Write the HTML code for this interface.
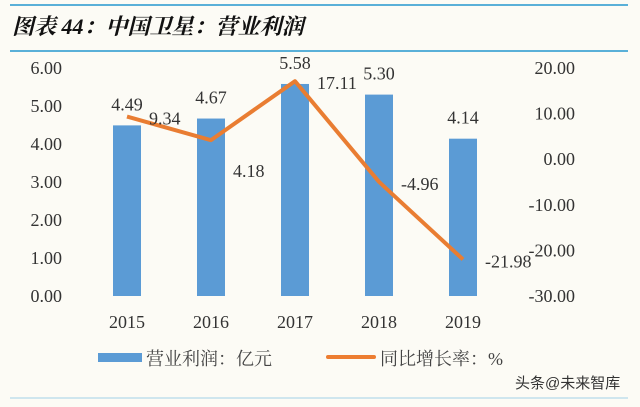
<!DOCTYPE html>
<html><head><meta charset="utf-8"><style>
html,body{margin:0;padding:0;background:#fcfbf5;}
body{width:640px;height:402px;overflow:hidden;position:relative;font-family:"Liberation Serif","Noto Serif CJK SC",serif;}
</style></head><body>
<svg width="640" height="402" id="chart">
<line x1="10" y1="5" x2="628" y2="5" stroke="#5ab0d8" stroke-width="2"/>
<line x1="10" y1="51" x2="628" y2="51" stroke="#5ab0d8" stroke-width="2"/>
<text x="12" y="34" font-size="22" font-style="italic" font-weight="bold" font-family="'Liberation Serif','Noto Serif CJK SC',serif" fill="#111">图表 44：中国卫星：营业利润</text>
<line x1="10" y1="398" x2="628" y2="398" stroke="#cfe6ee" stroke-width="2"/>
<g id="plot"></g>
<rect x="98" y="353" width="44" height="9" fill="#5b9bd5"/>
<text x="146" y="365" font-size="18" fill="#444">营业利润：亿元</text>
<line x1="328" y1="357" x2="374" y2="357" stroke="#ed7d31" stroke-width="4" stroke-linecap="round"/>
<text x="380" y="365" font-size="18" fill="#444">同比增长率：%</text>
<text x="515" y="388" font-size="15" fill="#333" font-family="'Liberation Sans','Noto Sans CJK SC',sans-serif">头条@未来智库</text>
</svg>
<script>
const years=["2015","2016","2017","2018","2019"];
const profit=[4.49,4.67,5.58,5.30,4.14];
const growth=[9.34,4.18,17.11,-4.96,-21.98];
const leftTicks=[0,1,2,3,4,5,6];
const rightTicks=[20,10,0,-10,-20,-30];
const NS="http://www.w3.org/2000/svg";
const plotG=document.getElementById('plot');
const plotTop=68,plotBot=296;
const yL=v=>plotBot-(v/6)*(plotBot-plotTop);
const yR=v=>plotTop+(20-v)/50*(plotBot-plotTop);
const xC=i=>127+i*84;
function mk(t,a,txt){const e=document.createElementNS(NS,t);for(const k in a)e.setAttribute(k,a[k]);if(txt!=null)e.textContent=txt;plotG.appendChild(e);return e;}
leftTicks.forEach(v=>{const e=mk('text',{x:62,y:yL(v)+6,'text-anchor':'end','font-size':18,fill:'#333'},v.toFixed(2));

});
rightTicks.forEach(v=>{const e=mk('text',{x:575,y:yR(v)+6,'text-anchor':'end','font-size':18,fill:'#333'},v.toFixed(2));

});
years.forEach((y,i)=>{
const b=mk('rect',{x:xC(i)-14,y:yL(profit[i]),width:28,height:plotBot-yL(profit[i]),fill:'#5b9bd5'});


const t=mk('text',{x:xC(i),y:yL(profit[i])-15,'text-anchor':'middle','font-size':18,fill:'#333'},profit[i].toFixed(2));


const xl=mk('text',{x:xC(i),y:328,'text-anchor':'middle','font-size':18,fill:'#333'},y);


});
const pts=growth.map((v,i)=>xC(i)+','+yR(v)).join(' ');
const pl=mk('polyline',{points:pts,fill:'none',stroke:'#e97d32','stroke-width':4,'stroke-linejoin':'round'});


growth.forEach((v,i)=>{
const dy=(i===1)?37:8;
const t=mk('text',{x:xC(i)+22,y:yR(v)+dy,'font-size':18,fill:'#333'},v.toFixed(2));


});
</script>
</body></html>
